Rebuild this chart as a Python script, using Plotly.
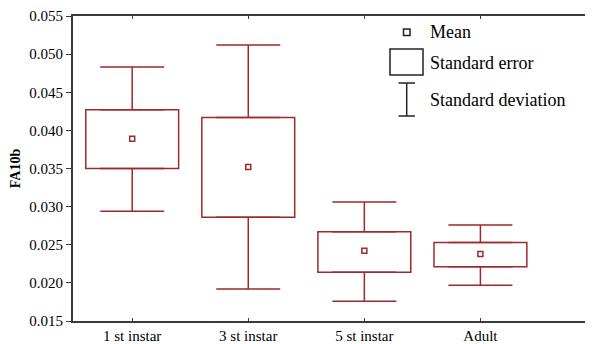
import plotly.graph_objects as go

categories = ["1 st instar", "3 st instar", "5 st instar", "Adult"]
mean_vals = [0.0389, 0.0352, 0.0242, 0.0238]
se_high = [0.0427, 0.0417, 0.0267, 0.0253]
se_low = [0.0350, 0.0286, 0.0214, 0.0221]
sd_high = [0.0483, 0.0512, 0.0306, 0.0276]
sd_low = [0.0294, 0.0192, 0.0176, 0.0197]
y_ticks = [0.015, 0.020, 0.025, 0.030, 0.035, 0.040, 0.045, 0.050, 0.055]

RED = "#9E2A2B"
AX = "#3a3a3a"
FONT = "Times New Roman, Liberation Serif, DejaVu Serif, serif"

fig = go.Figure()

# Standard error boxes
fig.add_trace(go.Bar(
    x=categories,
    base=se_low,
    y=[h - l for h, l in zip(se_high, se_low)],
    width=0.8,
    marker=dict(color="white", line=dict(color=RED, width=1.5)),
    showlegend=False, hoverinfo="skip",
))

# Upper whiskers
fig.add_trace(go.Scatter(
    x=categories, y=se_high, mode="markers",
    marker=dict(size=1, color="rgba(0,0,0,0)"),
    error_y=dict(type="data", symmetric=False,
                 array=[s - h for s, h in zip(sd_high, se_high)],
                 arrayminus=[0] * len(categories),
                 color=RED, thickness=1.5, width=32),
    showlegend=False, hoverinfo="skip",
))
# Lower whiskers
fig.add_trace(go.Scatter(
    x=categories, y=se_low, mode="markers",
    marker=dict(size=1, color="rgba(0,0,0,0)"),
    error_y=dict(type="data", symmetric=False,
                 array=[0] * len(categories),
                 arrayminus=[l - s for l, s in zip(se_low, sd_low)],
                 color=RED, thickness=1.5, width=32),
    showlegend=False, hoverinfo="skip",
))
# Means
fig.add_trace(go.Scatter(
    x=categories, y=mean_vals, mode="markers",
    marker=dict(symbol="square-open", size=5, color=RED, line=dict(width=1.5)),
    showlegend=False, hoverinfo="skip",
))

# page offset (body margin) compensation
OFF = 8
L, T, W, H = 73, 16, 520, 305
def px(x):
    return (x - L) / W
def py(y):
    return (T + H - y) / H

shapes = [
    dict(type="rect", xref="paper", yref="paper", x0=px(403.5), x1=px(410), y0=py(35.5), y1=py(29),
         line=dict(color="#222", width=1.5), fillcolor="rgba(0,0,0,0)"),
    dict(type="rect", xref="paper", yref="paper", x0=px(390), x1=px(423), y0=py(75), y1=py(49),
         line=dict(color="#222", width=1.5), fillcolor="rgba(0,0,0,0)"),
    dict(type="line", xref="paper", yref="paper", x0=px(406.7), x1=px(406.7), y0=py(116), y1=py(83),
         line=dict(color="#222", width=1.5)),
    dict(type="line", xref="paper", yref="paper", x0=px(398.5), x1=px(415), y0=py(83), y1=py(83),
         line=dict(color="#222", width=1.5)),
    dict(type="line", xref="paper", yref="paper", x0=px(398.5), x1=px(415), y0=py(116), y1=py(116),
         line=dict(color="#222", width=1.5)),
]
legend_texts = [("Mean", 32), ("Standard error", 63), ("Standard deviation", 100)]
annotations = [
    dict(text=t, xref="paper", yref="paper", x=px(428), y=py(yy), xanchor="left", yanchor="middle",
         showarrow=False, font=dict(family=FONT, size=18, color="black"))
    for t, yy in legend_texts
]

fig.update_layout(
    width=593 - OFF, height=344 - OFF,
    margin=dict(l=L - OFF, r=0, t=T - OFF, b=344 - T - H, autoexpand=False),
    paper_bgcolor="white", plot_bgcolor="white",
    font=dict(family=FONT, size=15, color="black"),
    shapes=shapes, annotations=annotations,
    bargap=0.2,
)
fig.update_xaxes(
    type="category", range=[-0.51, 3.97],
    showline=True, linecolor=AX, linewidth=2, mirror="ticks",
    ticks="inside", ticklen=3, tickcolor=AX, tickwidth=1,
    showgrid=False, zeroline=False,
    tickfont=dict(family=FONT, size=15, color="black"),
)
fig.update_yaxes(
    range=[0.015, 0.055], tickvals=y_ticks, ticktext=[f"{v:.3f}" for v in y_ticks],
    showline=True, linecolor=AX, linewidth=2,
    ticks="outside", ticklen=5, tickcolor=AX, tickwidth=1,
    showgrid=False, zeroline=False,
    title=dict(text="<b>FA10b</b>", font=dict(family=FONT, size=14, color="black"), standoff=8),
    tickfont=dict(family=FONT, size=15, color="black"),
)

fig.write_html("out.html")
